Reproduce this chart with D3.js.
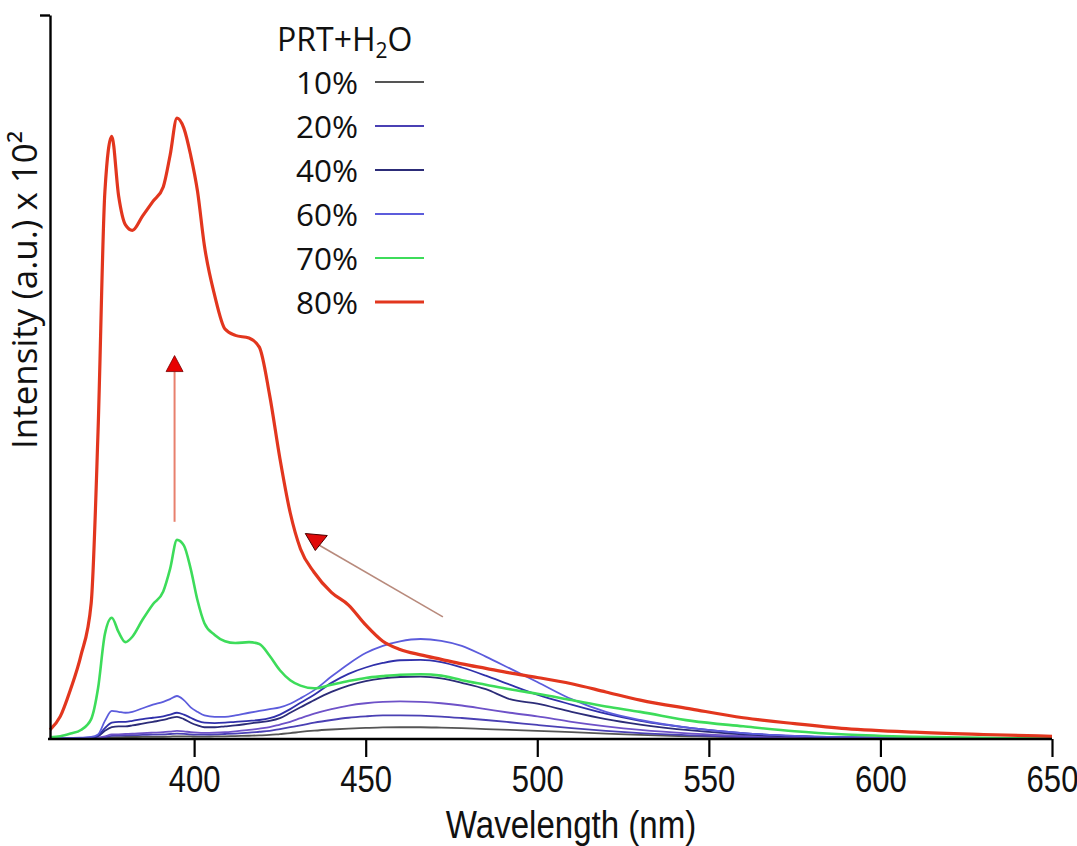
<!DOCTYPE html>
<html>
<head>
<meta charset="utf-8">
<script src="https://cdn.jsdelivr.net/npm/d3@7"></script>
<style>
  html, body { margin: 0; padding: 0; background: #fff; }
  svg { display: block; }
</style>
</head>
<body>
<svg id="chart" width="1077" height="846"></svg>
<script>
// ---------------- DATA ----------------
const wavelengths = [358, 361, 364, 367, 370, 372, 374, 376, 378, 380, 382, 385, 388, 391, 393, 395, 397, 399, 401, 403, 406, 409, 412, 416, 419, 422, 425, 428, 431, 435, 440, 445, 450, 455, 460, 466, 472, 478, 485, 492, 500, 510, 520, 530, 545, 560, 575, 590, 610, 630, 650];

const water10 = [0.01,0.01,0.01,0.02,0.03,0.05,0.1,0.18,0.2,0.22,0.22,0.23,0.24,0.25,0.27,0.3,0.29,0.28,0.27,0.27,0.28,0.3,0.32,0.36,0.4,0.45,0.55,0.65,0.78,0.92,1.05,1.15,1.22,1.28,1.3,1.3,1.26,1.2,1.1,1.0,0.9,0.75,0.6,0.45,0.3,0.18,0.1,0.06,0.03,0.02,0.01];
const water20 = [0.01,0.01,0.02,0.03,0.05,0.1,0.2,0.35,0.37,0.4,0.42,0.45,0.48,0.5,0.55,0.6,0.57,0.5,0.48,0.48,0.5,0.55,0.6,0.7,0.8,0.9,1.1,1.3,1.5,1.8,2.1,2.35,2.5,2.6,2.62,2.58,2.48,2.32,2.1,1.85,1.55,1.2,0.9,0.65,0.4,0.22,0.12,0.07,0.04,0.02,0.01];
const water30 = [0.02,0.02,0.03,0.05,0.08,0.15,0.3,0.5,0.52,0.55,0.58,0.65,0.7,0.75,0.82,0.9,0.85,0.75,0.7,0.68,0.7,0.75,0.85,1.0,1.15,1.3,1.6,1.9,2.3,2.8,3.3,3.7,3.95,4.1,4.15,4.1,3.95,3.7,3.3,2.9,2.5,1.9,1.4,1.0,0.6,0.35,0.2,0.1,0.05,0.03,0.02];
const water40 = [0.03,0.03,0.05,0.08,0.12,0.3,0.9,1.3,1.4,1.4,1.5,1.7,1.9,2.1,2.3,2.45,2.2,1.8,1.5,1.3,1.3,1.4,1.5,1.7,1.85,2.0,2.3,2.9,3.5,4.3,5.2,5.9,6.4,6.7,6.85,6.9,6.7,6.2,5.5,4.4,3.9,3.0,2.2,1.6,0.95,0.5,0.28,0.15,0.08,0.04,0.02];
const water50 = [0.03,0.03,0.05,0.1,0.15,0.4,1.2,1.8,1.9,1.9,2.0,2.2,2.35,2.5,2.7,2.9,2.7,2.35,2.0,1.8,1.75,1.8,1.9,2.0,2.1,2.3,2.7,3.3,4.0,4.9,6.2,7.2,7.9,8.4,8.7,8.75,8.5,7.9,7.0,6.0,4.9,3.8,2.8,2.0,1.2,0.65,0.35,0.2,0.1,0.05,0.03];
const water60 = [0.1,0.1,0.12,0.15,0.22,0.5,2.0,3.1,3.0,2.9,3.0,3.4,3.8,4.1,4.4,4.75,4.3,3.5,3.0,2.6,2.45,2.45,2.6,2.9,3.1,3.3,3.5,3.9,4.5,5.4,6.9,8.3,9.5,10.3,10.8,11.05,10.85,10.3,9.1,7.8,6.3,4.4,3.0,2.1,1.2,0.65,0.35,0.2,0.1,0.05,0.03];
const water70 = [0.2,0.3,0.6,1.0,2.2,5.6,11.6,13.4,11.8,10.7,11.3,13.2,14.9,16.3,18.8,22.0,21.4,18.8,15.3,12.8,11.5,10.8,10.6,10.7,10.5,9.2,7.6,6.5,5.9,5.6,6.0,6.4,6.75,6.95,7.1,7.15,7.0,6.5,6.0,5.5,5.0,4.3,3.6,3.0,2.0,1.4,0.85,0.5,0.25,0.12,0.05];
const water80 = [1.0,2.5,5.5,9.2,15,34,60.5,66.6,60,56.8,56.2,57.8,59.4,61,64.5,68.6,67.5,64.5,60.5,54.5,49,45.3,44.6,44.3,43.3,38,31,25,21,18.4,16.2,14.8,12.6,10.8,9.9,9.3,8.8,8.3,7.8,7.3,6.8,6.1,5.2,4.3,3.3,2.35,1.7,1.15,0.75,0.5,0.3];

const seriesNames  = ["10%", "20%", "30%", "40%", "50%", "60%", "70%", "80%"];
const seriesValues = [water10, water20, water30, water40, water50, water60, water70, water80];
const legendNames  = ["10%", "20%", "40%", "60%", "70%", "80%"];

const xTicks = [400, 450, 500, 550, 600, 650];

// annotation arrows (data units)
const arrowUp   = { x: 394.3, from: 24, to: 40.6 };
const arrowDown = { x0: 472.5, y0: 13.5, x1: 435.6, y1: 21.6 };

// ---------------- STYLE ----------------
const colors = {
  "10%": "#555555", "20%": "#4a40b4", "30%": "#6e52c8", "40%": "#2c2c78",
  "50%": "#3030aa", "60%": "#5c5cdc", "70%": "#3ddc5a", "80%": "#e2361e"
};
const widths = { "70%": 2.6, "80%": 3.2 };
const narrowFont = "'Liberation Sans', Arial, sans-serif";

// ---------------- CHART ----------------
const svg = d3.select("#chart");
const x = d3.scaleLinear().domain([358, 650]).range([50, 1052]);
const y = d3.scaleLinear().domain([0, 80]).range([739, 15]);

const line = d3.line()
  .x((d, i) => x(wavelengths[i]))
  .y(d => y(d))
  .curve(d3.curveMonotoneX);

const gLines = svg.append("g");
seriesNames.forEach((name, k) => {
  gLines.append("path")
    .datum(seriesValues[k])
    .attr("d", line)
    .attr("fill", "none")
    .attr("stroke", colors[name])
    .attr("stroke-width", widths[name] || 1.8)
    .attr("stroke-linejoin", "round");
});

// axes
const xAxis = d3.axisBottom(x).tickValues(xTicks).tickSize(18).tickPadding(9).tickSizeOuter(0);
const gx = svg.append("g").attr("transform", `translate(0,${y(0)})`).call(xAxis);
gx.select(".domain").attr("stroke", "#000").attr("stroke-width", 2.4).attr("d", `M${x(358)-2},0H${x(650)}`);
gx.selectAll(".tick line").attr("stroke", "#000").attr("stroke-width", 2.2);
gx.selectAll(".tick text")
  .attr("fill", "#111")
  .attr("transform", "scale(0.84,1)")
  .style("font-family", narrowFont)
  .style("font-size", "37px");

const yAxis = d3.axisLeft(y).tickValues([80]).tickSize(10).tickFormat("").tickSizeOuter(0);
const gy = svg.append("g").attr("transform", `translate(${x(358)},0)`).call(yAxis);
gy.select(".domain").attr("stroke", "#000").attr("stroke-width", 2.4);
gy.selectAll(".tick line").attr("stroke", "#000").attr("stroke-width", 2.4);

// axis titles
svg.append("g").attr("transform", "translate(571,838)")
  .append("text")
  .attr("x", 0).attr("y", 0)
  .attr("transform", "scale(0.87,1)")
  .attr("text-anchor", "middle")
  .style("font-family", narrowFont)
  .style("font-size", "38px")
  .attr("fill", "#111")
  .text("Wavelength (nm)");

svg.append("text")
  .attr("transform", "translate(37,290) rotate(-90)")
  .attr("text-anchor", "middle")
  .style("font-family", "'Open Sans', sans-serif")
  .style("font-size", "35px")
  .attr("fill", "#111")
  .text("Intensity (a.u.) x 10²");

// legend
const leg = svg.append("g");
const title = leg.append("text")
  .attr("x", 277).attr("y", 51)
  .style("font-family", "'Open Sans', sans-serif")
  .style("font-size", "32px")
  .attr("fill", "#111");
title.append("tspan").text("PRT+H");
title.append("tspan").attr("dy", 7).style("font-size", "21px").text("2");
title.append("tspan").attr("dy", -7).text("O");

legendNames.forEach((name, i) => {
  const ly = 82 + i * 44;
  leg.append("text")
    .attr("x", 358).attr("y", ly + 12)
    .attr("text-anchor", "end")
    .style("font-family", "'Open Sans', sans-serif")
    .style("font-size", "31.5px")
    .attr("fill", "#111")
    .text(name);
  leg.append("line")
    .attr("x1", 375).attr("x2", 424)
    .attr("y1", ly).attr("y2", ly)
    .attr("stroke", colors[name])
    .attr("stroke-width", name === "80%" ? 3 : 2);
});

// arrows
const ax = x(arrowUp.x);
svg.append("line")
  .attr("x1", ax).attr("x2", ax)
  .attr("y1", y(arrowUp.from)).attr("y2", y(arrowUp.to))
  .attr("stroke", "#e8806e").attr("stroke-width", 2);
const tipY = y(arrowUp.to);
svg.append("path")
  .attr("d", `M${ax - 8.5},${tipY} L${ax + 8.5},${tipY} L${ax},${tipY - 16} Z`)
  .attr("fill", "#e80000").attr("stroke", "#7a0000").attr("stroke-width", 0.8);

svg.append("line")
  .attr("x1", x(arrowDown.x0)).attr("y1", y(arrowDown.y0))
  .attr("x2", x(arrowDown.x1)).attr("y2", y(arrowDown.y1))
  .attr("stroke", "#b88a7c").attr("stroke-width", 1.6);
const dx = x(arrowDown.x1), dy = y(arrowDown.y1);
svg.append("path")
  .attr("d", `M${dx - 11},${dy - 10} L${dx + 11},${dy - 8} L${dx - 1},${dy + 7} Z`)
  .attr("fill", "#e00a0a").attr("stroke", "#4a0000").attr("stroke-width", 1);
</script>
</body>
</html>
